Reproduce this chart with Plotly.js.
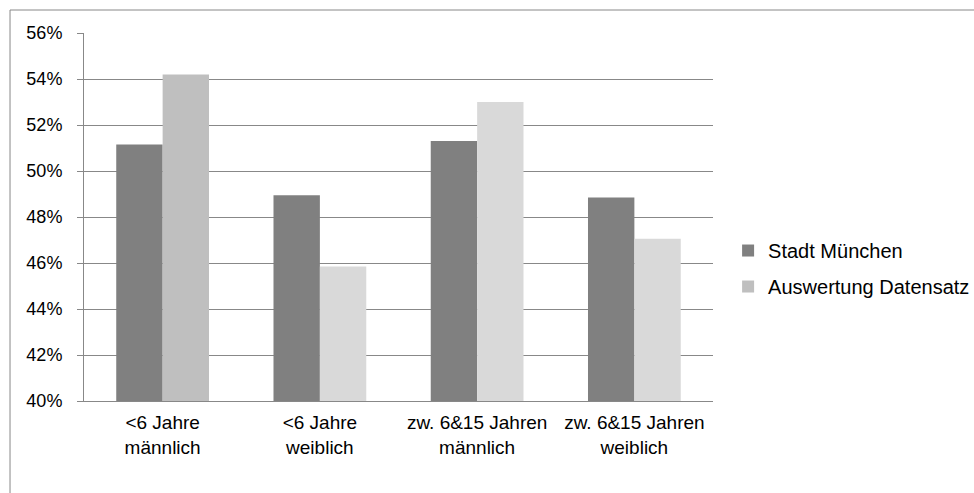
<!DOCTYPE html>
<html>
<head>
<meta charset="utf-8">
<script src="https://cdn.plot.ly/plotly-3.0.1.min.js"></script>
<style>html,body{margin:0;padding:0;background:#fff;}#chart{width:974px;height:493px;}</style>
</head>
<body>
<div id="chart"></div>
<script>
const categories = ['<6 Jahre<br>männlich', '<6 Jahre<br>weiblich', 'zw. 6&15 Jahren<br>männlich', 'zw. 6&15 Jahren<br>weiblich'];
const stadtMuenchen = [0.5115, 0.4895, 0.5130, 0.4885];
const auswertungDatensatz = [0.5420, 0.4585, 0.5300, 0.4705];
const seriesNames = ['Stadt München', 'Auswertung Datensatz'];
const stadtColors = ['#808080', '#808080', '#808080', '#808080'];
const auswertungColors = ['#BFBFBF', '#D9D9D9', '#D9D9D9', '#D9D9D9'];

const traces = [
  {type: 'bar', x: categories, y: stadtMuenchen, name: seriesNames[0], legendgroup: 'a', marker: {color: stadtColors}},
  {type: 'bar', x: categories, y: auswertungDatensatz, name: seriesNames[1], legendgroup: 'b', marker: {color: auswertungColors}}
];

const layout = {
  width: 974, height: 493,
  margin: {l: 84, r: 261, t: 33, b: 92, autoexpand: false},
  paper_bgcolor: '#fff', plot_bgcolor: '#fff',
  font: {family: 'Liberation Sans, Arial, sans-serif', size: 18, color: '#000'},
  barmode: 'group', bargap: 0.41, bargroupgap: 0,
  showlegend: true,
  legend: {x: 1.024, y: 0.36, xanchor: 'left', yanchor: 'middle', font: {size: 20}, itemwidth: 30, tracegroupgap: 7, bgcolor: 'rgba(0,0,0,0)'},
  xaxis: {
    showline: true, linecolor: '#888', linewidth: 1, ticks: '', showgrid: false,
    tickfont: {size: 19}, ticklabelstandoff: 4, automargin: false
  },
  yaxis: {
    range: [0.40, 0.56], dtick: 0.02, tickformat: '.0%',
    showgrid: true, gridcolor: '#888', gridwidth: 1,
    showline: true, linecolor: '#888', linewidth: 1,
    ticks: 'outside', ticklen: 6, tickcolor: '#888',
    tickfont: {size: 18}, ticklabelstandoff: 11, zeroline: false, automargin: false
  },
  shapes: [{
    type: 'rect', xref: 'paper', yref: 'paper',
    x0: -0.1176, x1: 1.6, y0: -0.5, y1: 1.0625,
    line: {color: '#888', width: 1}, fillcolor: 'rgba(0,0,0,0)', layer: 'below'
  }]
};

Plotly.newPlot('chart', traces, layout, {displayModeBar: false, staticPlot: true});
</script>
</body>
</html>
